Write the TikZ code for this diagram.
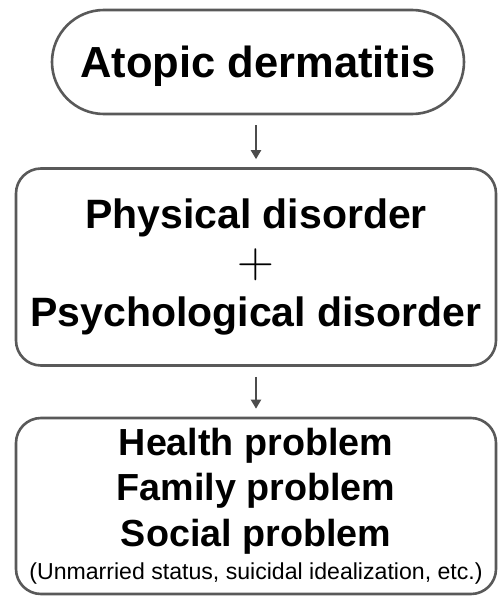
\documentclass[tikz,border=0pt]{standalone}
\usepackage{fontspec}
\setmainfont{Liberation Sans}
\usepackage{tikz}
\usetikzlibrary{arrows.meta,positioning}

\tikzset{
  boxline/.style={draw=black!65,line width=2.6pt,inner sep=0pt,align=center},
  flowarrow/.style={draw=black!70,line width=2pt,-{Triangle[length=9pt,width=10pt]},shorten <=10pt,shorten >=8pt}
}

\begin{document}
\begin{tikzpicture}[x=1pt,y=-1pt]
\useasboundingbox (0,0) rectangle (499,596);
\node[boxline,minimum width=412pt,minimum height=104pt,rounded corners=52pt,
  text height=38pt,text depth=6pt,font=\bfseries\fontsize{43.5}{50}\selectfont]
  (atopic) at (258,62) {Atopic dermatitis};
\node[boxline,minimum width=480pt,minimum height=197pt,rounded corners=25pt,
  font=\bfseries\fontsize{41}{49}\selectfont]
  (disorder) at (256,267) {Physical disorder\\
  \scalebox{2.05}{$+$}\\
  Psychological disorder};
\node[boxline,minimum width=480pt,minimum height=176pt,rounded corners=25pt,
  font=\bfseries\fontsize{37.7}{45.5}\selectfont]
  (problem) at (256,506) {Health problem\\
  Family problem\\
  Social problem\\[-12pt]
  {\mdseries\fontsize{23.1}{34}\selectfont(Unmarried status, suicidal idealization, etc.)}};
\draw[flowarrow] (atopic.south-|disorder.north) -- (disorder.north);
\draw[flowarrow] (disorder.south) -- (problem.north);
\end{tikzpicture}
\end{document}
